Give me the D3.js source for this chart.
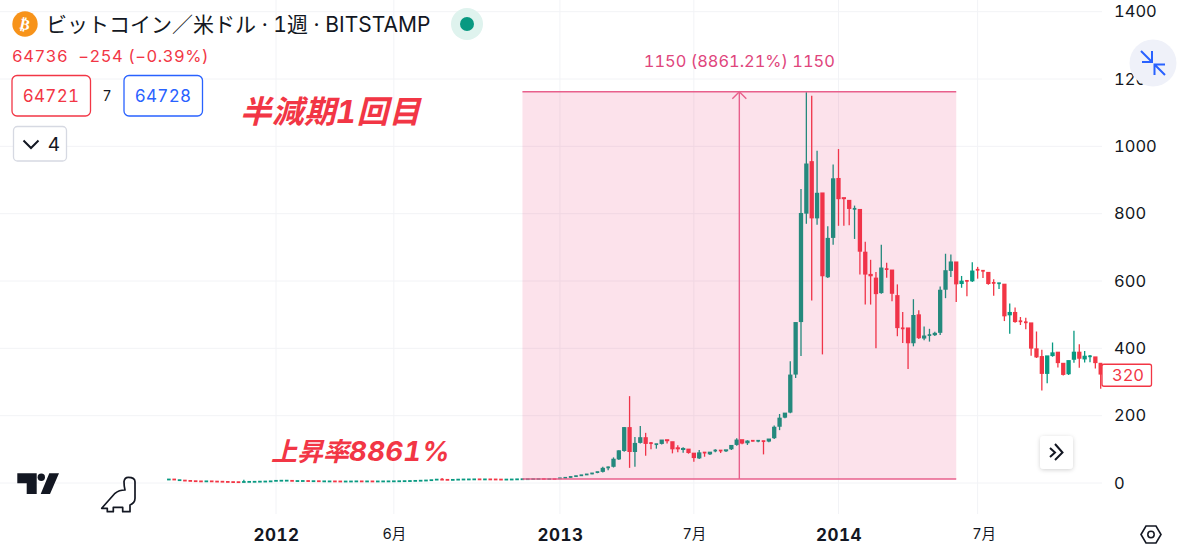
<!DOCTYPE html>
<html>
<head>
<meta charset="utf-8">
<script src="https://cdn.jsdelivr.net/npm/d3@7"></script>
<style>
html, body { margin: 0; padding: 0; background: #fff; }
svg { display: block; }
text { font-family: Inter, "Noto Sans CJK JP", sans-serif; font-variant-numeric: tabular-nums; }
</style>
</head>
<body>
<div id="holder"></div>
<script>
const w = 1200;
const h = 554;

// WEEKLY CANDLES (null = no visible wick)
const opens = [
    10.5, 11, 8.6, 7.8, 6.8, 6, 5.4, 5.2, 5.5, 4.8,
    4.4, 3.8, 3.3, 3.1, 3, 3.6, 3.9, 4.2, 4.6, 4.9,
    6.5, 7, 7.2, 7, 6.2, 6.3, 6.4, 5.8, 5.9, 5.3,
    5, 5.3, 5.1, 4.8, 5, 5.1, 5.4, 5.1, 5.3, 5.1,
    5.2, 5.3, 5.4, 5.6, 5.8, 6.1, 6.4, 6.9, 7.4, 8,
    9, 10.6, 10, 9.6, 9.9, 10.6, 11, 11.2, 11.4, 11,
    11.3, 11.1, 10.8, 10.5, 10.8, 11, 11.5, 11.8, 12, 12.3,
    12.5, 12.2, 12.3,
    13, 14.5, 16, 18.5, 21, 23.5, 26, 29, 31, 45,
    46, 68, 93, 164, 90, 117, 134, 119, 114, 114,
    128, 122, 104, 96, 100, 88, 71, 91, 83, 94,
    97, 92, 98, 111, 128, 116, 126, 124, 125, 121,
    131, 165, 192, 207, 320, 476, 798, 954, 784, 861,
    609, 726, 904, 847, 839, 811, 812, 685, 619, 608,
    562, 636, 632, 556, 460, 460, 413, 499, 427, 437,
    437, 444, 572, 628, 656, 589, 601, 597, 634, 631,
    625, 595, 590, 590, 496, 506, 481, 478, 475, 398,
    375, 322, 375, 388, 355, 321, 364, 388, 365, 373,
    374, 355
];
const closes = [
    11, 10.2, 9, 7, 6, 5.4, 5.2, 5.5, 4.8, 4.4,
    3.8, 3.2, 3, 3, 3.6, 4, 4.2, 4.6, 4.9, 5.5,
    7, 7.4, 7.5, 6.2, 6.4, 6.5, 5.8, 6, 5.3, 5.5,
    5.3, 5.1, 4.8, 5, 5.1, 5.4, 5.1, 5.3, 5.1, 5.2,
    5.3, 5.4, 5.6, 5.8, 6.1, 6.4, 6.9, 7.4, 8, 9,
    10.6, 10, 9.6, 9.9, 10.6, 11, 11.2, 11.4, 11, 11.3,
    11.1, 10.8, 10.5, 10.8, 11, 11.5, 11.8, 12, 12.3, 12.5,
    12.2, 12.3, 12.1,
    14.5, 16, 18.5, 21, 23.5, 26, 29, 33, 43, 47,
    70, 95, 164, 90, 117, 134, 114, 114, 116, 127,
    122, 98, 98, 102, 87, 72, 89, 88, 91, 97,
    94, 98, 111, 127, 115, 124, 123, 126, 123, 130,
    165, 192, 207, 320, 476, 800, 947, 784, 860, 612,
    726, 903, 841, 841, 812, 815, 685, 617, 612, 559,
    638, 632, 560, 458, 457, 413, 497, 428, 436, 440,
    444, 572, 630, 656, 588, 599, 599, 629, 631, 628,
    589, 592, 594, 493, 506, 476, 476, 475, 397, 371,
    322, 377, 386, 354, 319, 363, 388, 367, 376, 377,
    354, 320
];
const highs = [
    null, null, null, null, null, null, null, null, null, null,
    null, null, null, null, 10, null, null, null, null, null,
    null, null, null, null, null, null, null, null, null, null,
    null, null, null, null, null, null, null, null, null, null,
    null, null, null, null, null, null, null, null, null, null,
    null, 15, null, null, null, null, null, null, null, null,
    null, null, null, null, null, null, null, null, null, null,
    null, null, null,
    null, null, null, null, null, null, null, null, 48, 49,
    76, 97, 166, 258, 137, 169, 149, 122, 116, 127,
    128, 122, 112, 106, 100, 88, 98, 91, 91, 100,
    97, 98, 111, 133, 128, 127, 126, 126, 125, 130,
    171, 205, 207, 362, 476, 873, 1161, 1150, 987, 861,
    763, 946, 992, 847, 839, 824, 812, 717, 663, 627,
    708, 654, 632, 590, 508, 460, 546, 513, 465, 458,
    449, 584, 681, 679, 656, 615, 601, 656, 642, 631,
    625, 605, 594, 590, 533, 521, 493, 491, 475, 450,
    396, 377, 417, 388, 355, 363, 452, 412, 392, 380,
    374, 355
];
const lows = [
    null, null, null, null, null, null, null, null, null, null,
    null, null, null, null, null, null, null, null, null, null,
    null, null, null, null, null, null, null, null, null, null,
    null, null, null, null, null, null, null, null, null, null,
    null, null, null, null, null, null, null, null, null, null,
    null, null, null, null, null, null, null, null, null, null,
    null, null, null, null, null, null, null, null, null, null,
    null, null, null,
    null, null, null, null, null, null, null, null, 31, 38,
    46, 68, 93, 45, 48, 117, 81, 100, 102, 114,
    117, 88, 91, 90, 87, 63, 71, 78, 83, 91,
    89, 92, 98, 111, 115, 113, 123, 121, 85, 121,
    131, 157, 192, 207, 312, 377, 770, 542, 767, 382,
    609, 708, 764, 764, 766, 725, 619, 530, 530, 400,
    562, 610, 540, 436, 416, 339, 406, 428, 424, 420,
    437, 440, 549, 612, 538, 580, 555, 597, 607, 609,
    589, 556, 576, 481, 443, 476, 469, 457, 378, 371,
    275, 296, 375, 343, 319, 321, 357, 342, 358, 359,
    340, 280
];

// AXIS LABELS (x position = candle number)
const timeTicks = [20, 42, 73, 98, 125, 151];
const timeLabels = ["2012", "6月", "2013", "7月", "2014", "7月"];
const priceTicks = [0, 200, 400, 600, 800, 1000, 1200, 1400];

// PRICE RANGE TOOL
const rangeStart = 66;
const rangeEnd = 147;
const rangeLow = 12;
const rangeHigh = 1162;
const rangeLabel = "1150 (8861.21%) 1150";
const lastPrice = 320;

const green = "#089981";
const red = "#f23645";
const blue = "#2962ff";
const ink = "#131722";
const rangePink = "#e8608c";

const svg = d3.select("#holder")
    .append("svg")
    .attr("width", w)
    .attr("height", h);

// SCALES
const xScale = d3.scaleLinear()
    .domain([20, 125, 174])
    .range([276, 838.5, 1100.7]);

const yScale = d3.scaleLinear()
    .domain([0, 1400])
    .range([483, 11.7]);

// GRID
svg.append("g").selectAll("line")
    .data(priceTicks)
    .enter()
    .append("line")
    .attr("x1", 0)
    .attr("x2", 1102)
    .attr("y1", d => yScale(d))
    .attr("y2", d => yScale(d))
    .attr("stroke", "#f2f3f6");

svg.append("g").selectAll("line")
    .data(timeTicks)
    .enter()
    .append("line")
    .attr("x1", d => xScale(d))
    .attr("x2", d => xScale(d))
    .attr("y1", 0)
    .attr("y2", 514)
    .attr("stroke", "#f2f3f6");

// AXES
const yAxis = d3.axisRight(yScale)
    .tickValues(priceTicks)
    .tickFormat(d3.format("d"))
    .tickSize(0)
    .tickPadding(13);

const yAxisG = svg.append("g")
    .attr("transform", "translate(1101,0)")
    .call(yAxis);
yAxisG.select(".domain").remove();
yAxisG.selectAll("text")
    .attr("font-size", 16.5)
    .attr("fill", ink);

const xAxis = d3.axisBottom(xScale)
    .tickValues(timeTicks)
    .tickSize(0)
    .tickFormat((d, i) => timeLabels[i]);

const xAxisG = svg.append("g")
    .attr("transform", "translate(0,526)")
    .call(xAxis);
xAxisG.select(".domain").remove();
xAxisG.selectAll("text")
    .attr("fill", ink)
    .attr("font-size", (d, i) => timeLabels[i].length == 4 ? 17 : 14.5)
    .attr("font-weight", (d, i) => timeLabels[i].length == 4 ? 700 : 400)
    .attr("letter-spacing", (d, i) => timeLabels[i].length == 4 ? 0.5 : 0)
    // the last month label sits a little right of its grid line
    .attr("dx", (d, i) => i == timeTicks.length - 1 ? 6 : 0);

// CANDLES
svg.append("clipPath")
    .attr("id", "plot")
    .append("rect")
    .attr("x", 0)
    .attr("y", 0)
    .attr("width", 1102.5)
    .attr("height", 514);

const candles = svg.append("g")
    .attr("clip-path", "url(#plot)")
    .selectAll("g")
    .data(d3.range(opens.length))
    .enter()
    .append("g");

const candleColor = i => closes[i] >= opens[i] ? green : red;
const bodySize = i => Math.abs(yScale(opens[i]) - yScale(closes[i]));
const bodyWidth = i => bodySize(i) < 1.8 ? 3.6 : 4.3;

candles.append("line")
    .attr("x1", i => xScale(i))
    .attr("x2", i => xScale(i))
    .attr("y1", i => yScale(highs[i] === null ? Math.max(opens[i], closes[i]) : highs[i]))
    .attr("y2", i => yScale(lows[i] === null ? Math.min(opens[i], closes[i]) : lows[i]))
    .attr("stroke", candleColor)
    .attr("stroke-width", 1.3);

candles.append("rect")
    .attr("x", i => xScale(i) - bodyWidth(i) / 2)
    .attr("width", bodyWidth)
    .attr("y", i => yScale(Math.max(opens[i], closes[i])) - 0.7)
    .attr("height", i => Math.max(1.8, bodySize(i)))
    .attr("fill", candleColor);

// PRICE RANGE TOOL
const rangeMid = (xScale(rangeStart) + xScale(rangeEnd)) / 2;

svg.append("rect")
    .attr("x", xScale(rangeStart))
    .attr("y", yScale(rangeHigh))
    .attr("width", xScale(rangeEnd) - xScale(rangeStart))
    .attr("height", yScale(rangeLow) - yScale(rangeHigh))
    .attr("fill", "#e91e63")
    .attr("fill-opacity", 0.13);

svg.append("g").selectAll("line")
    .data([rangeLow, rangeHigh])
    .enter()
    .append("line")
    .attr("x1", xScale(rangeStart))
    .attr("x2", xScale(rangeEnd))
    .attr("y1", d => yScale(d))
    .attr("y2", d => yScale(d))
    .attr("stroke", rangePink)
    .attr("stroke-width", 1.4);

svg.append("line")
    .attr("x1", rangeMid)
    .attr("x2", rangeMid)
    .attr("y1", yScale(rangeLow))
    .attr("y2", yScale(rangeHigh))
    .attr("stroke", rangePink)
    .attr("stroke-width", 1.4);

svg.append("path")
    .attr("d", `M${rangeMid - 7},${yScale(rangeHigh) + 7}L${rangeMid},${yScale(rangeHigh)}L${rangeMid + 7},${yScale(rangeHigh) + 7}`)
    .attr("fill", "none")
    .attr("stroke", rangePink)
    .attr("stroke-width", 1.4);

svg.append("text")
    .attr("x", rangeMid)
    .attr("y", 67)
    .attr("text-anchor", "middle")
    .attr("font-size", 16.4)
    .attr("fill", "#e0457c")
    .text(rangeLabel);

// NOTES WRITTEN ON THE CHART
svg.append("text")
    .attr("x", 240)
    .attr("y", 122.5)
    .attr("font-size", 31.5)
    .attr("font-weight", 700)
    .attr("font-style", "italic")
    .attr("letter-spacing", 0.5)
    .attr("fill", red)
    .text("半減期1回目");

const riseNote = svg.append("text")
    .attr("x", 271)
    .attr("y", 461)
    .attr("font-size", 26)
    .attr("font-weight", 700)
    .attr("font-style", "italic")
    .attr("fill", red);
riseNote.append("tspan").text("上昇率");
riseNote.append("tspan")
    .attr("font-size", 27.5)
    .attr("letter-spacing", 0.4)
    .text("8861%");

// LAST PRICE LABEL
svg.append("rect")
    .attr("x", 1102)
    .attr("y", yScale(lastPrice) - 11)
    .attr("width", 49.5)
    .attr("height", 22)
    .attr("rx", 2)
    .attr("fill", "#fff")
    .attr("stroke", red)
    .attr("stroke-width", 1.3);

svg.append("text")
    .attr("x", 1128)
    .attr("y", yScale(lastPrice) + 6)
    .attr("text-anchor", "middle")
    .attr("font-size", 16.5)
    .attr("fill", red)
    .text(lastPrice);

// HEADER
svg.append("circle")
    .attr("cx", 25)
    .attr("cy", 24)
    .attr("r", 12.7)
    .attr("fill", "#f7931a");

svg.append("text")
    .attr("x", 25)
    .attr("y", 29.5)
    .attr("text-anchor", "middle")
    .attr("font-size", 15)
    .attr("font-weight", 700)
    .attr("fill", "#fff")
    .attr("transform", "rotate(12 25 24)")
    .style("font-family", "DejaVu Sans")
    .text("₿");

svg.append("text")
    .attr("x", 46)
    .attr("y", 32)
    .attr("font-size", 21)
    .attr("fill", ink)
    .text("ビットコイン／米ドル · 1週 · BITSTAMP");

svg.append("circle")
    .attr("cx", 467)
    .attr("cy", 24)
    .attr("r", 16)
    .attr("fill", "#dff3ee");

svg.append("circle")
    .attr("cx", 467)
    .attr("cy", 24)
    .attr("r", 7)
    .attr("fill", green);

svg.append("text")
    .attr("x", 12)
    .attr("y", 62)
    .attr("font-size", 16.5)
    .attr("letter-spacing", 0.55)
    .attr("fill", red)
    .attr("xml:space", "preserve")
    .text("64736  −254 (−0.39%)");

// BID / ASK BOXES
const boxes = [
    { x: 12, label: "64721", color: red },
    { x: 124, label: "64728", color: blue }
];

svg.append("g").selectAll("rect")
    .data(boxes)
    .enter()
    .append("rect")
    .attr("x", d => d.x)
    .attr("y", 75.5)
    .attr("width", 78.5)
    .attr("height", 40.5)
    .attr("rx", 5)
    .attr("fill", "#fff")
    .attr("stroke", d => d.color)
    .attr("stroke-width", 1.3);

svg.append("g").selectAll("text")
    .data(boxes)
    .enter()
    .append("text")
    .attr("x", d => d.x + 39)
    .attr("y", 102)
    .attr("text-anchor", "middle")
    .attr("font-size", 17)
    .attr("letter-spacing", 0.3)
    .attr("fill", d => d.color)
    .text(d => d.label);

svg.append("text")
    .attr("x", 107)
    .attr("y", 101)
    .attr("text-anchor", "middle")
    .attr("font-size", 14)
    .attr("fill", ink)
    .text("7");

svg.append("rect")
    .attr("x", 13.5)
    .attr("y", 126.5)
    .attr("width", 53)
    .attr("height", 34.5)
    .attr("rx", 4)
    .attr("fill", "#fff")
    .attr("stroke", "#d6d9e2")
    .attr("stroke-width", 1.3);

svg.append("path")
    .attr("d", "M23.5,140.5L31,148L38.5,140.5")
    .attr("fill", "none")
    .attr("stroke", ink)
    .attr("stroke-width", 2);

svg.append("text")
    .attr("x", 54)
    .attr("y", 151)
    .attr("text-anchor", "middle")
    .attr("font-size", 19)
    .attr("fill", ink)
    .text("4");

// RESTORE BUTTON, TOP RIGHT
svg.append("circle")
    .attr("cx", 1153)
    .attr("cy", 63)
    .attr("r", 23.5)
    .attr("fill", "#eff1f9");

svg.append("path")
    .attr("d", "M1141,51L1152,62M1142,62H1152V51M1165,75L1154.5,64.5M1165,64.5H1154.5V75")
    .attr("fill", "none")
    .attr("stroke", blue)
    .attr("stroke-width", 2);

// SCROLL TO END BUTTON
svg.append("filter")
    .attr("id", "soft")
    .attr("x", "-30%")
    .attr("y", "-30%")
    .attr("width", "160%")
    .attr("height", "160%")
    .append("feDropShadow")
    .attr("dx", 0)
    .attr("dy", 1)
    .attr("stdDeviation", 2)
    .attr("flood-color", "#000")
    .attr("flood-opacity", 0.18);

svg.append("rect")
    .attr("x", 1040)
    .attr("y", 436)
    .attr("width", 33)
    .attr("height", 33)
    .attr("rx", 4)
    .attr("fill", "#fff")
    .attr("filter", "url(#soft)");

svg.append("path")
    .attr("d", "M1050,448L1055,452.5L1050,457M1055,444L1062.5,452.5L1055,460")
    .attr("fill", "none")
    .attr("stroke", ink)
    .attr("stroke-width", 2);

// SETTINGS HEXAGON
svg.append("path")
    .attr("d", "M1141,534.5L1146,526H1156L1161,534.5L1156,543H1146Z")
    .attr("fill", "none")
    .attr("stroke", ink)
    .attr("stroke-width", 1.6);

svg.append("circle")
    .attr("cx", 1151)
    .attr("cy", 534.5)
    .attr("r", 3.2)
    .attr("fill", "none")
    .attr("stroke", ink)
    .attr("stroke-width", 1.5);

// LOGO
svg.append("path")
    .attr("d", "M17.3,473.3H36.7V494H26.7V483.3H17.3ZM49.3,473.3H59L50,494H40.7Z")
    .attr("fill", ink);

svg.append("circle")
    .attr("cx", 41.3)
    .attr("cy", 477.3)
    .attr("r", 3.7)
    .attr("fill", ink);

// DINOSAUR
svg.append("path")
    .attr("d", "M101.7,508.3L115,493.3Q119,490 125,490Q124,486 124,481.7Q124.5,477.3 128.3,477.3Q135,477.3 135,481.7V498.3Q135,503 130,505V511.7H122.7V507.3H113.3V511.7H107.3V508.3Z")
    .attr("fill", "none")
    .attr("stroke", ink)
    .attr("stroke-width", 1.7)
    .attr("stroke-linejoin", "round");
</script>
</body>
</html>
